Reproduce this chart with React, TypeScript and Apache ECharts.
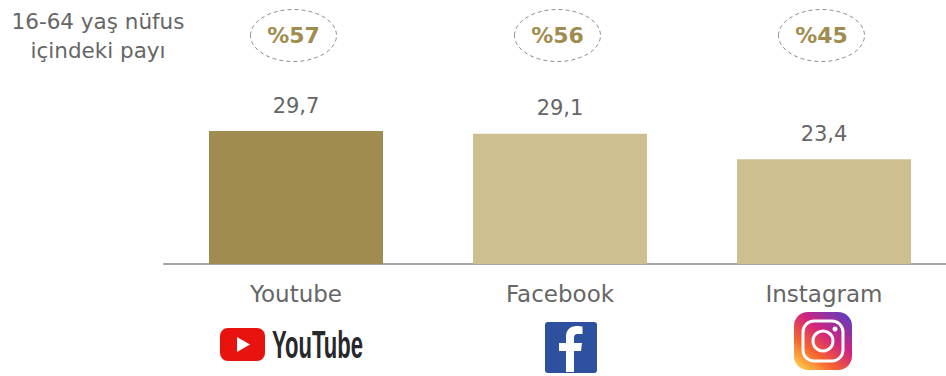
import React, { useEffect, useRef } from "react";
import * as echarts from "echarts";

const platforms = ["Youtube", "Facebook", "Instagram"];
const hours = [29.7, 29.1, 23.4];
const populationShare = ["%57", "%56", "%45"];
const noteLines = ["16-64 yaş nüfus", "içindeki payı"];

const FONT = "'DejaVu Sans', Lato, sans-serif";
const GREY = "#666666";
const DARK_GOLD = "#a08c4f";
const LIGHT_GOLD = "#cdbf8f";

echarts.graphic.registerShape(
  "fbGlyph",
  echarts.graphic.extendPath(
    "M29 50V29h7l1-8h-8v-5c0-2.400.7-4 4-4h4.500V4.500C36.700 4.400 34.200 4 31.500 4 25.500 4 21 7.700 21 14.500V21h-7v8h7v21z",
    {}
  )
);

function App() {
  const ref = useRef<HTMLDivElement>(null);

  useEffect(() => {
    const chart = echarts.init(ref.current!, null, { renderer: "svg" });

    const shareBadges = populationShare.flatMap((share, i) => {
      const cx = 293.5 + i * 264;
      return [
        {
          type: "ellipse",
          shape: { cx, cy: 35.5, rx: 43, ry: 26 },
          style: { fill: "none", stroke: "#8f8f8f", lineWidth: 1, lineDash: [4, 3] },
        },
        {
          type: "text",
          x: cx,
          y: 35,
          style: {
            text: share,
            fill: DARK_GOLD,
            font: `bold 22px ${FONT}`,
            align: "center",
            verticalAlign: "middle",
          },
        },
      ];
    });

    const noteTexts = noteLines.map((line, i) => ({
      type: "text",
      x: 98,
      y: 21 + i * 29,
      style: {
        text: line,
        fill: GREY,
        font: `21.5px ${FONT}`,
        align: "center",
        verticalAlign: "middle",
      },
    }));

    const youtubeLogo = [
      {
        type: "rect",
        shape: { x: 220, y: 328, width: 45, height: 33, r: 8 },
        style: { fill: "#e8130f" },
      },
      {
        type: "polygon",
        shape: { points: [[237, 337], [237, 352], [250, 344.500]] },
        style: { fill: "#ffffff" },
      },
      {
        type: "text",
        x: 272,
        y: 345,
        scaleX: 0.58,
        style: {
          text: "YouTube",
          fill: "#27272c",
          font: "bold 38px 'Liberation Sans Narrow', 'Liberation Sans', sans-serif",
          align: "left",
          verticalAlign: "middle",
        },
      },
    ];

    const facebookLogo = [
      {
        type: "rect",
        shape: { x: 545, y: 322, width: 52, height: 51, r: 3 },
        style: { fill: "#2d509f" },
      },
      {
        type: "fbGlyph",
        x: 545,
        y: 322,
        style: { fill: "#ffffff" },
      },
    ];

    const instagramLogo = [
      {
        type: "rect",
        shape: { x: 794, y: 312, width: 58, height: 58, r: 14 },
        style: {
          fill: new echarts.graphic.LinearGradient(0.1, 1, 0.9, 0, [
            { offset: 0, color: "#fdd14a" },
            { offset: 0.3, color: "#f5632f" },
            { offset: 0.6, color: "#d1247f" },
            { offset: 1, color: "#5a3fc0" },
          ]),
        },
      },
      {
        type: "rect",
        shape: { x: 803, y: 321, width: 40, height: 40, r: 11 },
        style: { fill: "none", stroke: "#ffffff", lineWidth: 3 },
      },
      {
        type: "circle",
        shape: { cx: 823, cy: 341, r: 10 },
        style: { fill: "none", stroke: "#ffffff", lineWidth: 3 },
      },
      {
        type: "circle",
        shape: { cx: 835, cy: 329, r: 2.500 },
        style: { fill: "#ffffff" },
      },
    ];

    chart.setOption({
      animation: false,
      grid: { left: 164, top: 0, width: 792, height: 264, outerBoundsMode: "none" },
      xAxis: {
        type: "category",
        data: platforms,
        axisTick: { show: false },
        axisLine: { lineStyle: { color: "#a6a6a6", width: 2 } },
        axisLabel: { color: GREY, fontFamily: FONT, fontSize: 23, margin: 18 },
      },
      yAxis: { type: "value", min: 0, max: 59, show: false, splitLine: { show: false } },
      series: [
        {
          type: "bar",
          barWidth: 174,
          data: hours.map((value, i) => ({
            value,
            itemStyle: { color: i === 0 ? DARK_GOLD : LIGHT_GOLD },
          })),
          label: {
            show: true,
            position: "top",
            distance: 15,
            color: GREY,
            fontFamily: FONT,
            fontSize: 21,
            formatter: (p: { value: number }) => p.value.toFixed(1).replace(".", ","),
          },
        },
      ],
      graphic: [...noteTexts, ...shareBadges, ...youtubeLogo, ...facebookLogo, ...instagramLogo],
    });

    return () => chart.dispose();
  }, []);

  return <div ref={ref} style={{ position: "absolute", left: 0, top: 0, width: 946, height: 376 }} />;
}

export default App;
